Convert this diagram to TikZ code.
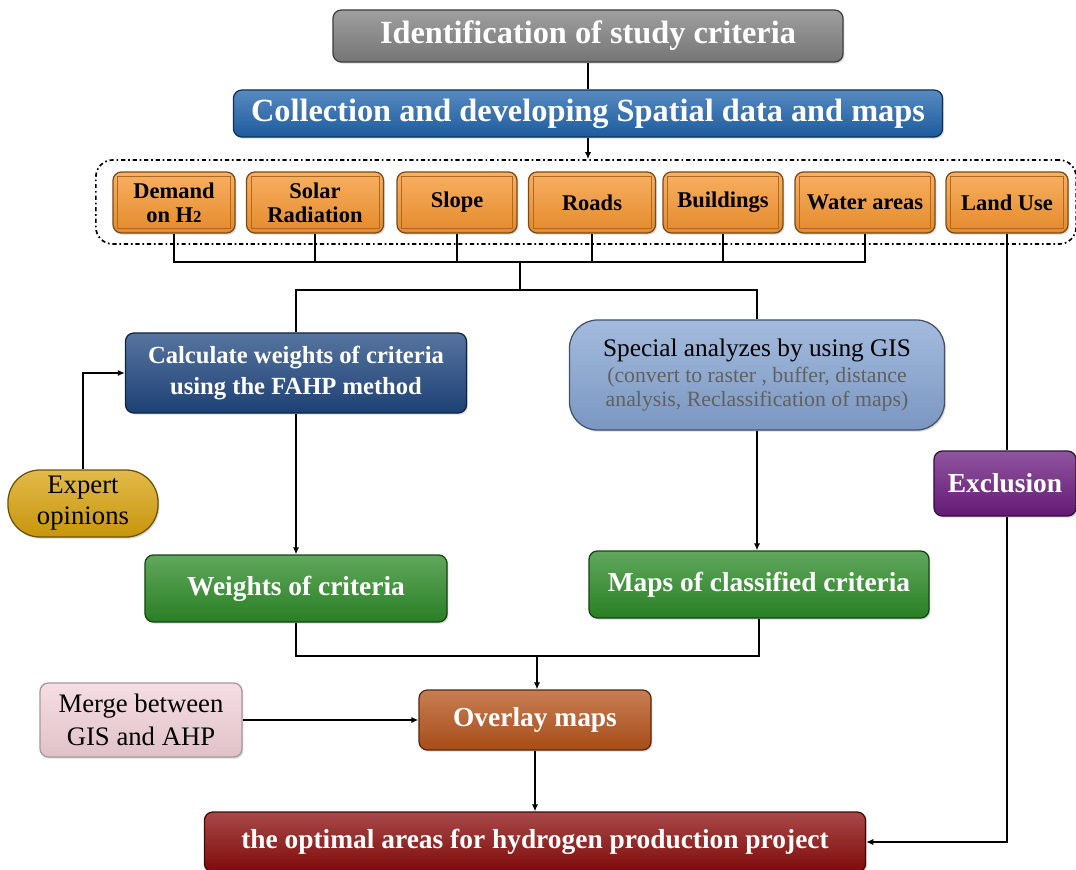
\documentclass[tikz,border=0pt]{standalone}
\usepackage{fontspec}
\setmainfont{Liberation Serif}
\usetikzlibrary{arrows.meta,shadows,calc}
\definecolor{cgray}{HTML}{7F7F7F}
\definecolor{cblue}{HTML}{1F63AB}
\definecolor{corange}{HTML}{F7962F}
\definecolor{cnavy}{HTML}{1F467F}
\definecolor{clight}{HTML}{85A4D2}
\definecolor{cgold}{HTML}{D9A30E}
\definecolor{cpurple}{HTML}{6B1C7E}
\definecolor{cgreen}{HTML}{2C8A27}
\definecolor{cpink}{HTML}{F3D3DA}
\definecolor{cbrown}{HTML}{B5531A}
\definecolor{cred}{HTML}{8A0B0B}
\begin{document}
\begin{tikzpicture}[x=0.025cm,y=-0.025cm,
  shade box/.style={rounded corners=6pt, draw=#1!50!black, line width=0.9pt,
    top color=#1!75!white, bottom color=#1!92!black, align=center, inner sep=1pt,
    drop shadow={opacity=0.3, shadow xshift=1pt, shadow yshift=-1.2pt}},
  wtext/.style={text=white, font=\bfseries},
  crit/.style={shade box=corange, minimum height=1.525cm, font=\bfseries\fontsize{16}{17}\selectfont},
  conn/.style={line width=1.3pt, draw=black},
  arr/.style={conn, -{Latex[length=5pt,width=4.5pt]}}]
\useasboundingbox (0,0) rectangle (1076,869);

% top nodes
\node[shade box=cgray, wtext, minimum width=12.75cm, minimum height=1.3cm,
  font=\bfseries\fontsize{23}{25}\selectfont] (title) at (588,36) {Identification of study criteria};
\node[shade box=cblue, wtext, minimum width=17.725cm, minimum height=1.175cm,
  font=\bfseries\fontsize{23}{25}\selectfont] (coll) at (588,113.5) {Collection and developing Spatial data and maps};

% group box
\node[draw, line width=1.2pt, dash dot, rounded corners=12pt, minimum width=24.5cm, minimum height=2.1cm] (grp) at (586,202) {};

% criteria
\node[crit, minimum width=3.05cm] (dem) at (174,202.5) {Demand\\[0pt]on H{\fontsize{12}{12}\selectfont 2}};
\node[crit, minimum width=3.425cm] (sol) at (315,202.5) {Solar\\[0pt]Radiation};
\node[crit, minimum width=3.0cm] (slo) at (457,202.5) {Slope};
\node[crit, minimum width=3.175cm] (roa) at (592,202.5) {Roads};
\node[crit, minimum width=3.0cm] (bui) at (723,202.5) {Buildings};
\node[crit, minimum width=3.5cm] (wat) at (865,202.5) {Water areas};
\node[crit, minimum width=3.05cm] (lan) at (1007,202.5) {Land Use};
\foreach \n in {dem,sol,slo,roa,bui,wat,lan}{
  \draw[corange!70!black, line width=0.4pt] ($(\n.north west)+(5,5)$) rectangle ($(\n.south east)+(-5,-5)$);
}

% middle nodes
\node[shade box=cnavy, wtext, minimum width=8.525cm, minimum height=2.0cm,
  font=\bfseries\fontsize{17.5}{22}\selectfont] (calc) at (296,373) {Calculate weights of criteria\\using the FAHP method};
\node[shade box=clight, rounded corners=20pt, minimum width=9.375cm, minimum height=2.75cm,
  font=\fontsize{15.5}{17.5}\selectfont] (spec) at (757,375)
  {{\fontsize{18}{20}\selectfont Special analyzes by using GIS}\\[1pt]
   {\color{black!62}(convert to raster , buffer, distance}\\
   {\color{black!62}analysis, Reclassification of maps)}};
\node[shade box=cgold, rounded corners=0.8cm, minimum width=3.75cm, minimum height=1.675cm,
  font=\fontsize{19}{22}\selectfont] (exp) at (83,503.5) {Expert\\opinions};
\node[shade box=cpurple, wtext, minimum width=3.55cm, minimum height=1.625cm,
  font=\bfseries\fontsize{19.5}{21}\selectfont] (exc) at (1005,483.5) {Exclusion};
\node[shade box=cgreen, wtext, minimum width=7.55cm, minimum height=1.675cm,
  font=\bfseries\fontsize{19.5}{21}\selectfont] (wei) at (296,588.5) {Weights of criteria};
\node[shade box=cgreen, wtext, minimum width=8.5cm, minimum height=1.675cm,
  font=\bfseries\fontsize{19.5}{21}\selectfont] (map) at (759,584.5) {Maps of classified criteria};

% lower nodes
\node[shade box=cpink, draw=cpink!60!black!80, minimum width=5.05cm, minimum height=1.85cm,
  font=\fontsize{19}{23}\selectfont] (mer) at (141,720) {Merge between\\GIS and AHP};
\node[shade box=cbrown, wtext, minimum width=5.8cm, minimum height=1.5cm,
  font=\bfseries\fontsize{19.5}{21}\selectfont] (ove) at (535,720) {Overlay maps};
\node[shade box=cred, wtext, minimum width=16.525cm, minimum height=1.5cm,
  font=\bfseries\fontsize{19.5}{21}\selectfont] (fin) at (535,842) {the optimal areas for hydrogen production project};

% connectors
\coordinate (b1) at (520,262);
\coordinate (b2) at (520,290);
\coordinate (b3) at (537,656);
\draw[conn] (title.south) -- (title.south|-coll.north);
\draw[arr] (coll.south) -- (coll.south|-grp.north);
\foreach \n in {dem,sol,slo,roa,bui,wat}{
  \draw[conn] (\n.south) |- (b1);
}
\draw[conn] (b1) -- (b2);
\draw[conn] (b2) -| (calc.north);
\draw[conn] (b2) -| (spec.north);
\draw[conn] (lan.south) -- (lan.south|-exc.north);
\draw[arr] (exc.south-|lan.south) |- (fin.east);
\draw[arr] (exp.north) |- (calc.west);
\draw[arr] (calc.south) -- (wei.north);
\draw[arr] (spec.south) -- (spec.south|-map.north);
\draw[conn] (wei.south) |- (b3);
\draw[conn] (map.south) |- (b3);
\draw[arr] (b3) -- (b3|-ove.north);
\draw[arr] (mer.east) -- (ove.west);
\draw[arr] (ove.south) -- (ove.south|-fin.north);
\end{tikzpicture}
\end{document}
